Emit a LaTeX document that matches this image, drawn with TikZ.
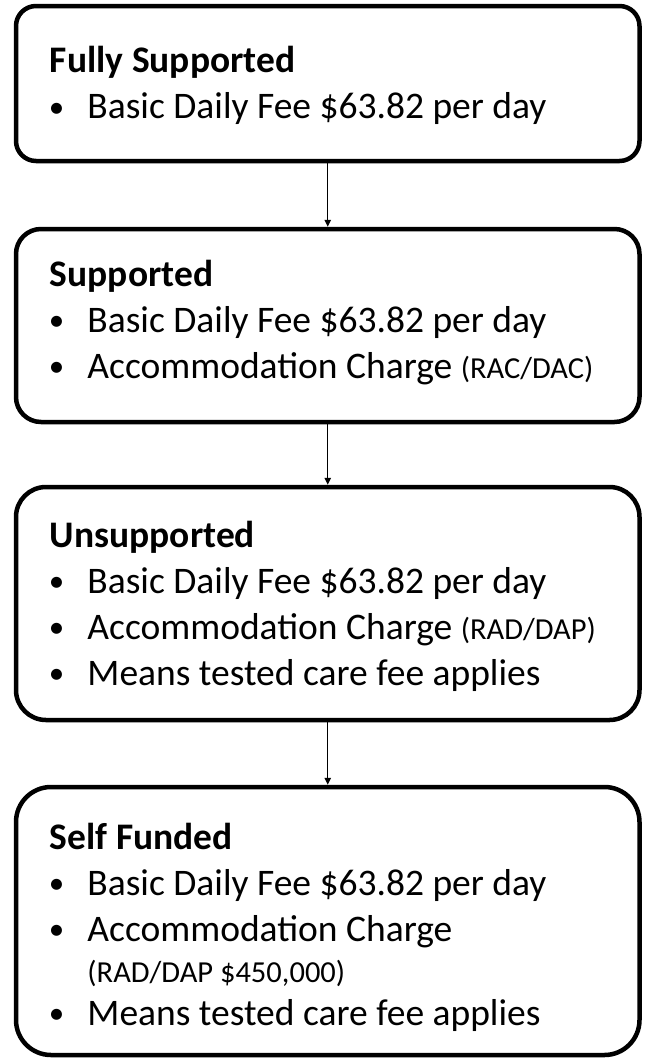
\documentclass[tikz,border=0pt]{standalone}
\usepackage{fontspec}
\setmainfont{Carlito}
\usetikzlibrary{arrows.meta,positioning}
\tikzset{
  card/.style={draw, line width=4.5pt, minimum width=623.5pt, inner sep=0pt},
  cardtext/.style={anchor=base west, inner sep=0pt, font=\fontsize{37.5}{46}\selectfont},
  flow/.style={line width=1.3pt, -{Triangle[width=6.5pt,length=7pt]}}
}
\newcommand{\bul}{\makebox[37.5pt][l]{\hspace{-1pt}\raisebox{1.5pt}{\fontsize{31}{46}\selectfont •}}}
\newcommand{\smalltxt}[1]{{\fontsize{30.5}{46}\selectfont #1}}
\newcommand{\cardlines}[1]{\parbox[t]{570pt}{\lineskiplimit=-100pt\baselineskip=46pt\raggedright #1}}
\begin{document}
\begin{tikzpicture}[x=1pt,y=1pt]
	\useasboundingbox (0,0) rectangle (645,-1058);
	% the four boxes
	\node[card, minimum height=155pt, rounded corners=20pt] (fully) at (327.75,-83.5) {};
	\node[card, minimum height=193pt, rounded corners=25pt, below=63.5pt of fully] (supp) {};
	\node[card, minimum height=233pt, rounded corners=30pt, below=60.5pt of supp] (unsupp) {};
	\node[card, minimum height=268pt, rounded corners=35pt, below=62.5pt of unsupp] (self) {};
	% texts
	\node[cardtext] (fullyT) at ([shift={(36pt,-68.75pt)}]fully.north west)
		{\cardlines{\textbf{Fully Supported}\\
			\bul Basic Daily Fee \$63.82 per day}};
	\node[cardtext] (suppT) at ([shift={(36pt,-59.25pt)}]supp.north west)
		{\cardlines{\textbf{Supported}\\
			\bul Basic Daily Fee \$63.82 per day\\
			\bul Accommodation Charge \smalltxt{(RAC/DAC)}}};
	\node[cardtext] (unsuppT) at ([shift={(36pt,-62.25pt)}]unsupp.north west)
		{\cardlines{\textbf{Unsupported}\\
			\bul Basic Daily Fee \$63.82 per day\\
			\bul Accommodation Charge \smalltxt{(RAD/DAP)}\\
			\bul Means tested care fee applies}};
	\node[cardtext] (selfT) at ([shift={(36pt,-64.25pt)}]self.north west)
		{\cardlines{\textbf{Self Funded}\\
			\bul Basic Daily Fee \$63.82 per day\\
			\bul Accommodation Charge\\[-5pt]
			\hspace*{37.5pt}\smalltxt{(RAD/DAP \$450,000)}\\[-3pt]
			\bul Means tested care fee applies}};
	% arrows
	\foreach \a/\b in {fully/supp,supp/unsupp,unsupp/self}{
		\draw[flow] (\a.south) -- (\b.north);
	}
\end{tikzpicture}
\end{document}
